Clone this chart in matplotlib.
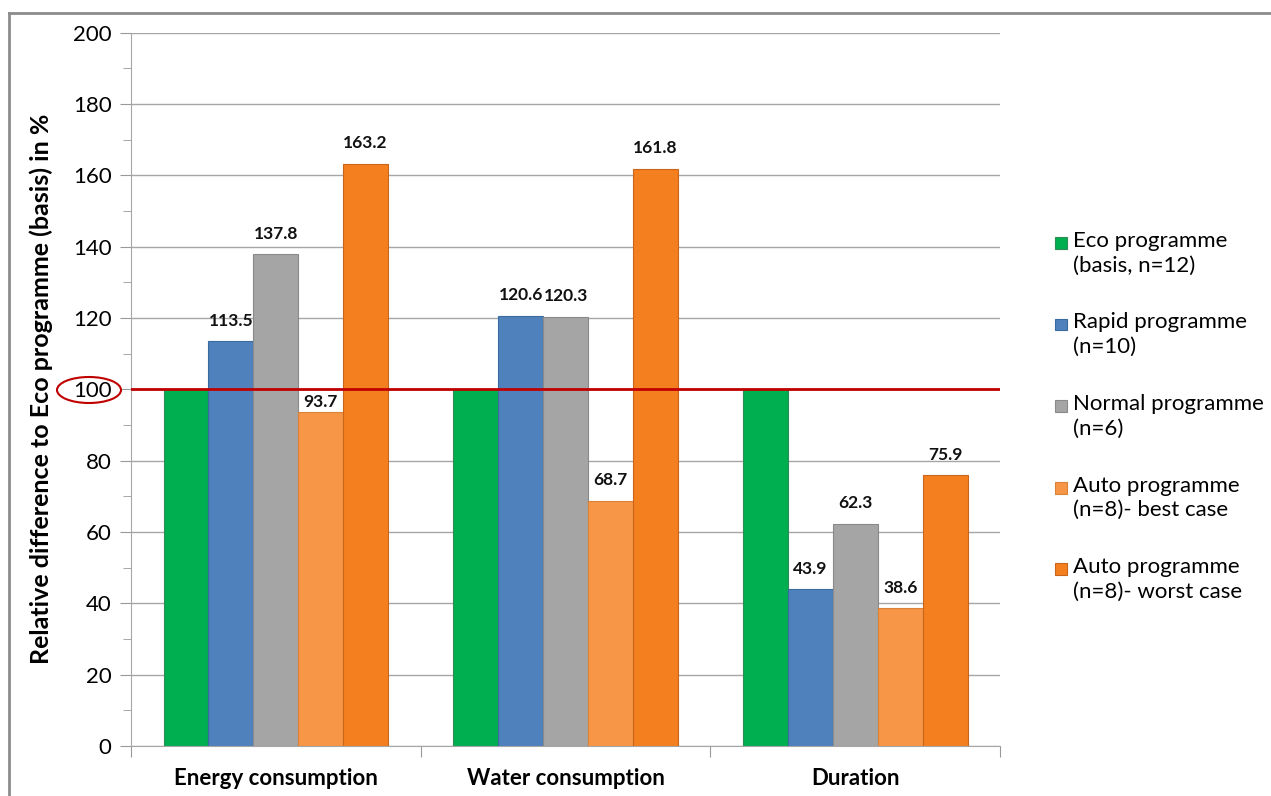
import numpy as np
import matplotlib.pyplot as plt
from matplotlib.patches import Ellipse, Rectangle
from matplotlib.lines import Line2D
from matplotlib.ticker import MultipleLocator

plt.rcParams['font.family'] = ['Lato', 'DejaVu Sans']

categories = ['Energy consumption', 'Water consumption', 'Duration']
series = ['Eco programme\n(basis, n=12)', 'Rapid programme\n(n=10)', 'Normal programme\n(n=6)',
          'Auto programme\n(n=8)- best case', 'Auto programme\n(n=8)- worst case']
eco = [100, 100, 100]
rapid = [113.5, 120.6, 43.9]
normal = [137.8, 120.3, 62.3]
auto_best = [93.7, 68.7, 38.6]
auto_worst = [163.2, 161.8, 75.9]
values = [eco, rapid, normal, auto_best, auto_worst]
show_label = [False, True, True, True, True]

colors = ['#00B050', '#4F81BD', '#A5A5A5', '#F79646', '#F47F1F']
edges = ['#2E8B57', '#3A6A9E', '#8A8A8A', '#D9823A', '#C8651A']

fig = plt.figure(figsize=(12.71, 7.96), dpi=100)
ax = fig.add_axes([0.103, 0.063, 0.684, 0.896])

x = np.arange(len(categories))
w = 0.155
for i, vals in enumerate(values):
    pos = x + (i - 2) * w
    bars = ax.bar(pos, vals, w, color=colors[i], edgecolor=edges[i], linewidth=0.8, zorder=2)
    if not show_label[i]:
        continue
    for b, v in zip(bars, vals):
        cx = b.get_x() + b.get_width() / 2
        if 90 < v < 100:
            # label would sit on the basis line: keep it just above the bar on a white box
            ax.text(cx, v + 0.6, f'{v:.1f}', ha='center', va='bottom', fontsize=12.5,
                    fontweight='bold', color='#111111', zorder=5,
                    bbox=dict(facecolor='white', edgecolor='none', pad=0.5))
        else:
            ax.text(cx, v + 3.5, f'{v:.1f}', ha='center', va='bottom', fontsize=12.5,
                    fontweight='bold', color='#111111')

ax.set_xlim(-0.5, 2.5)
ax.set_ylim(0, 200)
ax.yaxis.set_major_locator(MultipleLocator(20))
ax.yaxis.set_minor_locator(MultipleLocator(10))
ax.set_xticks([-0.5, 0.5, 1.5, 2.5], minor=False)
ax.set_xticklabels([])
ax.set_xticks(x, minor=True)
ax.set_xticklabels(categories, minor=True, fontsize=16, fontweight='bold')
ax.tick_params(axis='x', which='major', length=8, color='#999999')
ax.tick_params(axis='x', which='minor', length=0, pad=16)
ax.tick_params(axis='y', which='major', length=8, color='#999999', labelsize=16, pad=6)
ax.tick_params(axis='y', which='minor', length=6, color='#999999')
ax.grid(axis='y', which='major', color='#A6A6A6', linewidth=1, zorder=0)
for s in ['top', 'right']:
    ax.spines[s].set_visible(False)
for s in ['left', 'bottom']:
    ax.spines[s].set_color('#A6A6A6')

ax.set_ylabel('Relative difference to Eco programme (basis) in %', fontsize=18,
              fontweight='bold', labelpad=14)

# basis reference line
ax.axhline(100, color='#C00000', linewidth=2, zorder=3)
ell = Ellipse((89 / 1271, 1 - 390 / 796), 64 / 1271, 26 / 796, transform=fig.transFigure,
              fill=False, edgecolor='#C00000', linewidth=1.5)
fig.add_artist(ell)

# legend: square next to the first line of each two-line label
for i, lab in enumerate(series):
    ytop = 1 - (243 + 81.5 * i) / 796
    fig.add_artist(Rectangle((1055 / 1271, ytop - 6 / 796), 12 / 1271, 12 / 796,
                             transform=fig.transFigure, facecolor=colors[i],
                             edgecolor=edges[i], linewidth=0.8))
    fig.text(1073 / 1271, ytop + 12 / 796, lab, ha='left', va='top', fontsize=16,
             linespacing=1.3)

# outer frame
fig.add_artist(Line2D([9 / 1271, 1], [1 - 13 / 796, 1 - 13 / 796], transform=fig.transFigure,
                      color='#8C8C8C', linewidth=2))
fig.add_artist(Line2D([9 / 1271, 9 / 1271], [0, 1 - 13 / 796], transform=fig.transFigure,
                      color='#8C8C8C', linewidth=2))

fig.savefig('out.png', dpi=100)
